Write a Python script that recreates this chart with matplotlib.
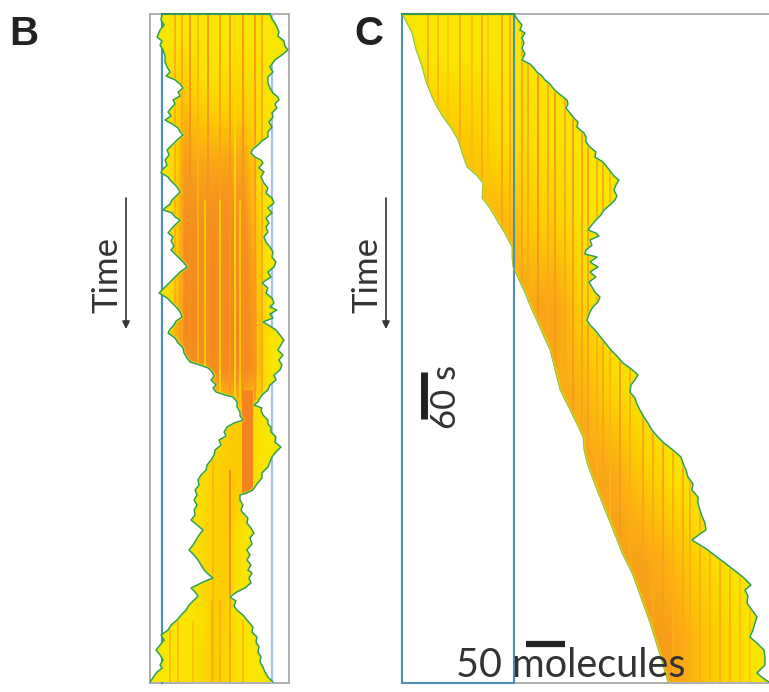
import numpy as np
import matplotlib
matplotlib.use("Agg")
import matplotlib.pyplot as plt
from matplotlib.colors import LinearSegmentedColormap
from matplotlib.patches import Polygon, Rectangle

# ---- data (time = image row, position = image column)
B_left_t = [14,20,25,30,37,41,45,50,56,62,67,72,76,80,84,88,92,96,100,104,107,112,116,120,124,128,132,135,139,143,147,150,155,160,165,170,173,177,180,183,187,192,196,200,204,208,210,213,217,220,224,228,233,237,241,246,250,255,259,263,267,272,277,282,287,293,298,303,308,312,317,321,325,329,333,338,343,348,353,358,362,365,368,372,376,380,385,388,392,395,397,402,407,412,416,420,423,427,432,436,440,445,450,455,460,465,470,475,480,485,490,495,500,505,510,515,520,525,530,535,540,545,550,555,560,565,570,574,578,582,585,588,592,596,600,605,610,615,620,625,630,635,640,645,650,655,660,665,668,672,676,682]
B_left_x = [162,161,164,160,157,162,160,163,165,165,167,170,166,175,180,183,178,180,173,175,172,168,171,165,172,178,180,183,178,174,170,167,169,165,167,162,161,168,170,173,177,180,176,172,170,165,163,172,175,180,176,172,168,173,171,174,171,176,180,184,187,180,175,170,165,159,167,172,177,180,182,176,174,170,168,175,178,183,184,187,190,200,208,212,214,211,216,213,216,225,233,237,237,240,240,243,234,227,224,226,219,221,215,214,211,207,206,201,198,199,195,197,194,197,194,195,191,197,203,199,196,193,189,194,198,201,204,208,213,203,197,191,195,198,194,189,186,181,177,171,168,161,164,160,156,160,163,160,162,157,154,150]
B_right_t = [14,19,23,27,32,36,41,46,50,55,60,64,67,72,77,83,88,93,97,100,104,108,113,117,122,127,132,137,141,145,149,153,157,160,163,168,172,177,183,188,193,198,203,208,213,218,223,227,232,237,242,247,252,257,262,267,272,277,283,288,293,298,303,307,310,314,318,322,326,330,335,340,345,350,355,360,365,370,375,380,385,390,394,398,402,405,408,410,415,420,424,427,432,437,442,447,452,457,462,467,473,478,484,490,493,495,500,505,510,513,518,523,528,533,538,544,550,555,560,565,570,573,578,583,588,592,597,601,606,610,615,620,627,632,637,642,647,652,657,662,667,672,677,682]
B_right_x = [270,272,275,277,279,278,284,285,288,282,275,272,270,273,268,268,270,273,278,279,275,277,272,273,269,272,268,268,262,258,253,251,255,261,263,259,264,261,264,268,266,272,274,268,272,266,269,266,268,264,266,270,273,272,276,274,268,271,262,268,266,272,274,270,277,270,273,263,270,276,280,284,281,278,283,279,282,280,274,276,270,268,263,260,258,254,262,261,263,268,268,271,271,276,275,281,276,272,270,268,262,262,257,253,247,240,240,243,241,243,248,247,251,254,250,252,247,250,247,251,248,252,249,251,245,237,230,236,234,237,243,247,253,252,257,256,259,258,261,260,263,265,268,273]

C_left_t = [14,33,50,67,82,97,107,117,128,140,153,167,175,183,198,207,217,232,247,257,267,280,293,308,323,337,350,370,390,414,437,450,463,477,490,515,540,553,573,598,623,652,682]
C_left_x = [402,412,416,422,426,432,437,443,451,458,462,467,476,483,482,489,495,504,512,512,513,519,525,531,538,544,550,555,560,572,583,584,587,592,597,607,617,622,632,641,650,659,668]
C_right_t = [14,20,25,30,33,38,43,48,54,60,64,68,72,76,80,84,88,92,96,100,104,108,113,118,122,127,133,137,142,147,152,157,162,167,172,176,180,185,190,196,200,205,210,215,220,226,230,233,236,240,245,250,254,257,262,267,272,277,282,287,292,297,302,307,312,320,325,330,335,340,345,350,356,363,368,372,375,380,385,392,398,404,410,417,423,430,437,443,450,457,463,470,477,484,490,497,503,510,516,523,530,534,540,545,550,557,563,570,577,585,590,596,603,610,617,623,630,637,643,650,657,665,670,673,678,682]
C_right_x = [514,518,522,520,525,522,524,522,525,522,530,534,537,542,545,550,553,557,562,567,568,566,570,574,578,577,584,586,586,590,596,595,603,607,611,614,619,616,614,617,615,610,604,601,596,591,588,596,599,590,592,586,585,597,590,598,590,596,589,592,595,600,598,593,590,587,590,595,599,603,607,611,617,623,630,635,638,635,631,630,635,637,640,644,648,652,658,664,673,681,683,686,688,693,692,698,698,700,702,705,706,700,692,700,708,717,725,734,743,751,745,748,747,752,757,755,753,750,757,764,765,765,760,757,763,769]

# slow heat field (0 = yellow, 1 = orange)
B_cols = [150,165,180,190,200,210,220,230,240,250,260,270,280,290]
B_rows = [14,60,110,160,210,260,310,360,400,430,470,495,530,570,620,682]
B_heat = [
 [.05,.05,.05,.05,.05,.05,.05,.05,.05,.05,.05,.05,.05,.05],
 [.05,.1,.2,.25,.15,.1,.1,.12,.15,.15,.12,.08,.05,.05],
 [.05,.1,.2,.45,.35,.3,.3,.3,.3,.3,.2,.08,.05,.05],
 [.05,.1,.15,.65,.55,.55,.55,.55,.55,.55,.25,.08,.05,.05],
 [.05,.1,.15,.75,.75,.7,.75,.75,.75,.7,.3,.08,.05,.05],
 [.05,.1,.15,.85,.85,.85,.85,.85,.85,.85,.45,.08,.05,.05],
 [.05,.1,.2,.85,.88,.88,.88,.88,.88,.88,.55,.08,.05,.05],
 [.05,.1,.4,.9,.9,.9,.9,.9,.95,.9,.65,.15,.05,.05],
 [.05,.1,.3,.75,.85,.85,.85,.85,.9,.9,.75,.15,.05,.05],
 [.05,.05,.08,.08,.12,.15,.2,.25,.3,.25,.15,.08,.05,.05],
 [.05,.05,.08,.08,.1,.15,.2,.25,.3,.25,.15,.05,.05,.05],
 [.05,.05,.08,.08,.1,.15,.25,.3,.3,.2,.1,.05,.05,.05],
 [.05,.05,.08,.08,.1,.2,.25,.3,.15,.08,.05,.05,.05,.05],
 [.05,.05,.08,.08,.1,.2,.25,.3,.15,.08,.05,.05,.05,.05],
 [.05,.05,.05,.05,.08,.15,.25,.25,.1,.05,.05,.05,.05,.05],
 [.05,.05,.08,.08,.1,.2,.25,.2,.1,.06,.05,.05,.05,.05],
]
C_cols = [400,430,460,490,520,550,580,610,640,670,700,730,769]
C_rows = [14,100,200,300,400,500,600,682]
C_heat = [
 [.05,.05,.05,.05,.05,.05,.05,.05,.05,.05,.05,.05,.05],
 [.3,.3,.3,.15,.12,.08,.05,.05,.05,.05,.05,.05,.05],
 [.4,.45,.45,.45,.3,.25,.08,.02,.02,.02,.02,.02,.02],
 [.5,.5,.55,.55,.55,.6,.2,.02,.02,.02,.02,.02,.02],
 [.5,.5,.55,.55,.55,.55,.45,.2,.05,.02,.02,.02,.02],
 [.5,.5,.55,.55,.6,.6,.6,.55,.3,.12,.02,.02,.02],
 [.6,.6,.6,.6,.6,.65,.65,.65,.6,.45,.22,.08,.02],
 [.7,.7,.7,.7,.7,.7,.7,.7,.7,.65,.4,.2,.05],
]

# streaks: position, heat, first and last time
B_streak_x = [175,182,190,198,208,220,230,235,243,255,262,205,220,240,258,230,213,170,178,193,212,220,230,243]
B_streak_h = [.5,.55,.75,.45,.75,.6,.7,.15,.75,.7,.55,.2,.2,.25,.3,.95,.45,.4,.4,.35,.5,.5,.6,.45]
B_streak_a = [14,14,14,14,14,14,14,14,14,14,14,200,200,200,200,470,430,620,620,620,600,600,600,620]
B_streak_b = [400,400,400,400,400,400,400,400,400,400,400,400,400,400,400,600,682,682,682,682,682,682,682,682]
# the one broad lane that survives through the pinch
B_lane_x = [247]
B_lane_h = [.97]
B_lane_a = [390]
B_lane_b = [497]

C_streak_x = [428,438,448,460,472,482,488,502,510,522,528,538,548,555,565,573,582,588,597,603,610,620,630,643,653,663,673,683,690,700,710,720,730,740,750]
C_streak_h = [.5,.45,.3,.55,.4,.55,.35,.6,.55,.6,.55,.75,.55,.7,.55,.7,.6,.65,.5,.6,.45,.7,.5,.6,.55,.65,.5,.55,.5,.5,.45,.5,.45,.35,.35]

time_labels = ["Time", "Time"]
time_scale_label = "60 s"
molecule_scale_label = "50 molecules"
panel_labels = ["B", "C"]

# ---- drawing
cmap = LinearSegmentedColormap.from_list(
    "kymo", ["#f9ec00", "#fdd000", "#fbae14", "#f7931e", "#f5821f"])
GREEN_DARK = "#2f9a55"
GRAY = "#a8a8a8"
BLUE = "#4d8fb8"

fig = plt.figure(figsize=(7.69, 6.92), dpi=100)
ax = fig.add_axes([0, 0, 1, 1])
ax.set_xlim(0, 769)
ax.set_ylim(692, 0)
ax.axis("off")


def band(lt, lx, rt, rx, cols, rows, heat):
    verts = list(zip(lx, lt)) + list(zip(rx[::-1], rt[::-1]))
    poly = Polygon(verts, closed=True, fc="none", ec="none", zorder=2)
    ax.add_patch(poly)
    im = ax.imshow(heat, cmap=cmap, vmin=0, vmax=1, aspect="auto",
                   interpolation="bilinear",
                   extent=(cols[0], cols[-1], rows[-1], rows[0]), zorder=2)
    im.set_clip_path(poly)
    ax.set_xlim(0, 769)
    ax.set_ylim(692, 0)
    return poly


def edges(lt, lx, rt, rx, lcol, rcol, llw, rlw, poly):
    for xs, ts in ((lx, lt), (rx, rt)):
        halo, = ax.plot(xs, ts, color="#cfe01a", lw=2.6, alpha=.7, zorder=4)
        halo.set_clip_path(poly)
    ax.plot(lx, lt, color=lcol, lw=llw, zorder=5)
    ax.plot(rx, rt, color=rcol, lw=rlw, zorder=5)


# Panel B
ax.add_patch(Rectangle((150, 14), 139, 669, fc="none", ec=GRAY, lw=1.3, zorder=1))
ax.plot([162, 162], [14, 683], color=BLUE, lw=1.6, zorder=1.5)
ax.plot([272, 272], [14, 683], color="#a9c4dc", lw=1.6, zorder=1.5)
pB = band(B_left_t, B_left_x, B_right_t, B_right_x, B_cols, B_rows, B_heat)
lcB = ax.vlines(B_streak_x, B_streak_a, B_streak_b,
                colors=cmap(np.array(B_streak_h)), lw=1.4, alpha=.9, zorder=3)
lcB.set_clip_path(pB)
laneB = ax.vlines(B_lane_x, B_lane_a, B_lane_b, colors=cmap(np.array(B_lane_h)),
                  lw=8, zorder=3)
laneB.set_clip_path(pB)
edges(B_left_t, B_left_x, B_right_t, B_right_x, GREEN_DARK, GREEN_DARK, 1.0, 1.0, pB)
ax.plot([162, 270], [14, 14], color=GREEN_DARK, lw=1.5, zorder=5)

# Panel C
ax.plot([514, 769], [14, 14], color=GRAY, lw=1.3, zorder=1)
ax.plot([402, 769], [683, 683], color=GRAY, lw=1.3, zorder=1)
pC = band(C_left_t, C_left_x, C_right_t, C_right_x, C_cols, C_rows, C_heat)
lcC = ax.vlines(C_streak_x, 14, 682, colors=cmap(np.array(C_streak_h)),
                lw=1.4, alpha=.9, zorder=3)
lcC.set_clip_path(pC)
edges(C_left_t, C_left_x, C_right_t, C_right_x, "#9cbc40", GREEN_DARK, .7, 1.0, pC)
ax.plot([402, 514], [14, 14], color=GREEN_DARK, lw=1.5, zorder=5)
ax.add_patch(Rectangle((402, 14), 112, 669, fc="none", ec=BLUE, lw=1.5, zorder=4))

# Labels
FONT = ["Lato", "DejaVu Sans"]
ax.text(9, 45, panel_labels[0], fontsize=29, fontweight="bold",
        family=["Liberation Sans"], color="#222222", va="baseline", zorder=6)
ax.text(354, 45, panel_labels[1], fontsize=29, fontweight="bold",
        family=["Liberation Sans"], color="#222222", va="baseline", zorder=6)
for x, lab in zip((107, 368), time_labels):
    ax.text(x, 275, lab, rotation=90, ha="center", va="center", fontsize=25,
            family=FONT, color="#333333", zorder=6)
for x in (126, 386):
    ax.annotate("", xy=(x, 329), xytext=(x, 198),
                arrowprops=dict(arrowstyle="-|>", color="#333333", lw=1.2,
                                mutation_scale=11, shrinkA=0, shrinkB=0))
ax.plot([424, 424], [372, 419], color="#222222", lw=5, solid_capstyle="butt", zorder=6)
ax.text(446, 397, time_scale_label, rotation=90, ha="center", va="center",
        fontsize=25, family=FONT, color="#333333", zorder=6)
ax.plot([526, 565], [644, 644], color="#222222", lw=4.5, solid_capstyle="butt", zorder=6)
ax.text(456, 677, molecule_scale_label, ha="left", va="baseline", fontsize=28.5,
        family=FONT, color="#333333", zorder=6)

fig.savefig("out.png", dpi=100)
